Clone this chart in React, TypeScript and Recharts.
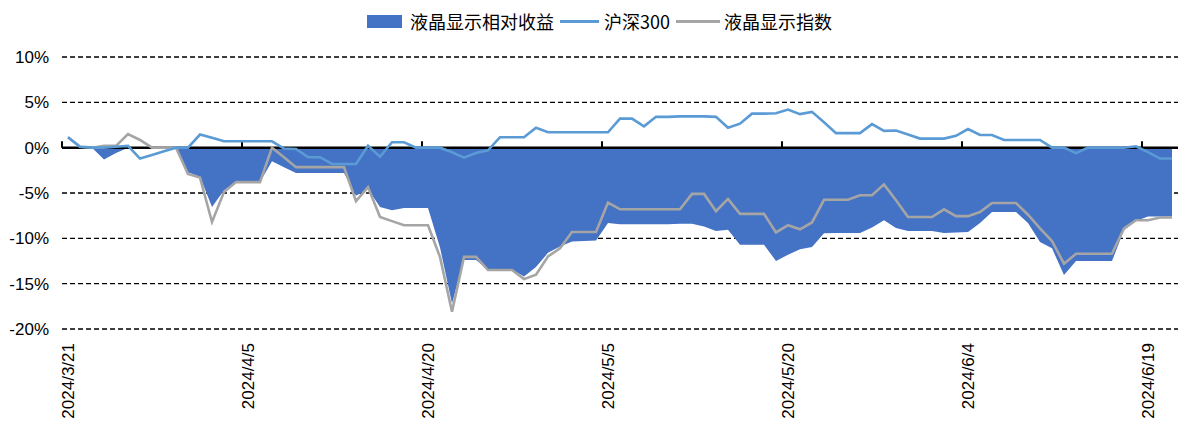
import {
  ComposedChart,
  Area,
  Line,
  XAxis,
  YAxis,
  CartesianGrid,
  ReferenceLine,
} from "recharts";

// calendar days from 2024/3/21, index 0..92
const dayTicks = [0, 15, 30, 45, 60, 75, 90];
const yTicks = [10, 5, 0, -5, -10, -15, -20];

// 沪深300 (%)
const hs300 = [
  1.15, 0.1, 0, 0, 0.1, 0.2, -1.2, -0.8, -0.4, 0,
  0, 1.45, 1.1, 0.7, 0.7, 0.7, 0.7, 0.7, -0.1, -0.15,
  -1.05, -1.05, -1.8, -1.8, -1.8, 0.2, -1.0, 0.6, 0.6, 0,
  0, 0, -0.5, -1.1, -0.6, -0.3, 1.15, 1.15, 1.15, 2.2,
  1.7, 1.7, 1.7, 1.7, 1.7, 1.7, 3.2, 3.2, 2.35, 3.4,
  3.4, 3.45, 3.45, 3.45, 3.4, 2.2, 2.65, 3.75, 3.75, 3.8,
  4.2, 3.7, 3.95, 2.8, 1.6, 1.6, 1.6, 2.6, 1.85, 1.9,
  1.45, 1.0, 1.0, 1.0, 1.3, 2.05, 1.4, 1.4, 0.85, 0.85,
  0.85, 0.85, 0, 0, -0.6, 0, 0, 0, 0, 0.15,
  -0.5, -1.2, -1.2,
];

// 液晶显示指数 (%)
const lcdIndex = [
  1.15, 0.1, 0, 0.2, 0.2, 1.5, 0.85, 0, 0, 0,
  -2.9, -3.3, -8.2, -4.9, -3.8, -3.8, -3.8, 0, -1.05, -2.15,
  -2.15, -2.15, -2.15, -2.15, -5.9, -4.35, -7.65, -8.1, -8.55, -8.55,
  -8.55, -12.05, -18.1, -12.05, -12.05, -13.5, -13.5, -13.5, -14.5, -14.0,
  -12.0, -11.1, -9.3, -9.3, -9.3, -6.05, -6.8, -6.8, -6.8, -6.8,
  -6.8, -6.8, -5.1, -5.1, -7.0, -5.65, -7.3, -7.3, -7.3, -9.35,
  -8.55, -9.0, -8.25, -5.75, -5.75, -5.75, -5.25, -5.25, -4.05, -5.8,
  -7.65, -7.65, -7.65, -6.8, -7.55, -7.55, -7.1, -6.1, -6.1, -6.1,
  -7.4, -8.9, -10.3, -12.8, -11.7, -11.7, -11.7, -11.7, -8.9, -8.0,
  -8.0, -7.7, -7.7,
];

// 液晶显示相对收益 (%)
const lcdRelative = [
  0, 0, 0, -1.3, -0.6, 0, 0, 0, 0, 0,
  -2.7, -3.2, -6.55, -4.7, -3.8, -3.8, -3.8, -1.5, -2.15, -2.8,
  -2.8, -2.8, -2.8, -2.8, -5.3, -4.55, -6.55, -6.9, -6.65, -6.65,
  -6.65, -11.0, -17.2, -12.4, -12.4, -13.45, -13.45, -13.45, -14.2, -13.15,
  -11.6, -10.9, -10.35, -10.3, -10.25, -8.3, -8.45, -8.45, -8.45, -8.45,
  -8.45, -8.4, -8.4, -8.7, -9.2, -9.05, -10.7, -10.7, -10.7, -12.5,
  -11.8, -11.2, -10.95, -9.45, -9.4, -9.4, -9.4, -8.8, -8.0, -8.85,
  -9.2, -9.2, -9.2, -9.4, -9.35, -9.3, -8.3, -7.1, -7.1, -7.1,
  -8.3, -10.4, -11.1, -14.05, -12.5, -12.5, -12.5, -12.5, -9.1, -8.1,
  -7.6, -7.6, -7.6,
];

const data = hs300.map((v, i) => ({
  day: i,
  hs300: v,
  lcd: lcdIndex[i],
  rel: lcdRelative[i],
}));

function formatDay(day: number) {
  const d = new Date(2024, 2, 21 + day);
  return d.getFullYear() + "/" + (d.getMonth() + 1) + "/" + d.getDate();
}

function DateTick(props: any) {
  const { x, y, payload } = props;
  return (
    <text
      x={0}
      y={0}
      dy="0.35em"
      transform={`translate(${x},${y + 14}) rotate(-90)`}
      textAnchor="end"
      fontSize={17}
      fontFamily='"Liberation Sans", Arial, sans-serif'
      fill="#000"
    >
      {formatDay(payload.value)}
    </text>
  );
}

const legendText = {
  fontFamily: '"Noto Sans CJK SC", sans-serif',
  fontSize: 18,
  color: "#000",
  whiteSpace: "nowrap" as const,
};

function Legend() {
  return (
    <div
      style={{
        position: "absolute",
        left: 367,
        top: 8,
        height: 26,
        display: "flex",
        alignItems: "center",
      }}
    >
      <span style={{ width: 35, height: 13, background: "#4472C4", marginRight: 8 }} />
      <span style={legendText}>液晶显示相对收益</span>
      <span style={{ width: 39, height: 3, background: "#5B9BD5", margin: "0 5px 0 6px" }} />
      <span style={legendText}>沪深300</span>
      <span style={{ width: 44, height: 3, background: "#A5A5A5", margin: "0 4px 0 6px" }} />
      <span style={legendText}>液晶显示指数</span>
    </div>
  );
}

export default function App() {
  return (
    <div
      style={{
        position: "absolute",
        left: 0,
        top: 0,
        width: 1179,
        height: 428,
        background: "#fff",
      }}
    >
      <Legend />
      <ComposedChart
        width={1179}
        height={428}
        data={data}
        margin={{ top: 57, right: 1, bottom: 4, left: 7 }}
      >
        <CartesianGrid
          vertical={false}
          stroke="#000"
          strokeWidth={1.3}
          strokeDasharray="5 3"
        />
        <XAxis
          dataKey="day"
          type="number"
          domain={[-0.5, 92.5]}
          ticks={dayTicks}
          interval={0}
          height={95}
          axisLine={false}
          tickLine={false}
          tickSize={0}
          tickMargin={0}
          tick={<DateTick />}
        />
        <YAxis
          type="number"
          domain={[-20, 10]}
          ticks={yTicks}
          width={55}
          axisLine={false}
          tickLine={false}
          tickSize={0}
          tickMargin={13}
          tickFormatter={(v: number) => v + "%"}
          tick={{
            fontSize: 17,
            fill: "#000",
            fontFamily: '"Liberation Sans", Arial, sans-serif',
          }}
        />
        <Area
          type="linear"
          dataKey="rel"
          baseValue={0}
          fill="#4472C4"
          fillOpacity={1}
          stroke="none"
          isAnimationActive={false}
        />
        <ReferenceLine y={0} stroke="#000" strokeWidth={2.5} />
        {dayTicks.map((d) => (
          <ReferenceLine
            key={d}
            segment={[
              { x: d - 0.5, y: 0 },
              { x: d - 0.5, y: 0.7 },
            ]}
            stroke="#000"
            strokeWidth={2}
          />
        ))}
        <Line
          type="linear"
          dataKey="lcd"
          stroke="#A5A5A5"
          strokeWidth={2.6}
          dot={false}
          activeDot={false}
          isAnimationActive={false}
        />
        <Line
          type="linear"
          dataKey="hs300"
          stroke="#5B9BD5"
          strokeWidth={2.6}
          dot={false}
          activeDot={false}
          isAnimationActive={false}
        />
      </ComposedChart>
    </div>
  );
}
